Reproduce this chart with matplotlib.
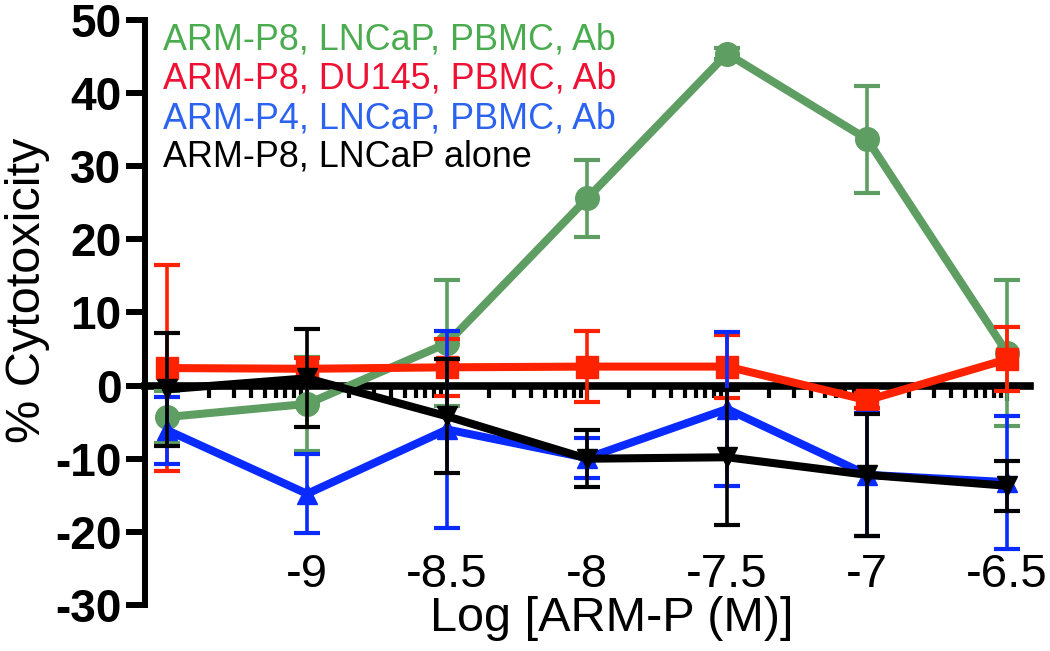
import numpy as np
import matplotlib
matplotlib.use("Agg")
import matplotlib.pyplot as plt

plt.rcParams['font.family'] = ['Liberation Sans', 'DejaVu Sans']

# ---- data ----
log_conc = [-9.5, -9.0, -8.5, -8.0, -7.5, -7.0, -6.5]

green_mean = [-4.3, -2.5, 5.8, 25.6, 45.4, 33.7, 4.5]
green_err = [3.6, 6.4, 8.6, 5.3, 0.8, 7.3, 10.0]

red_mean = [2.4, 2.3, 2.5, 2.6, 2.6, -2.0, 3.6]
red_err = [14.1, 1.5, 3.9, 4.8, 4.3, 1.0, 4.4]

blue_mean = [-6.1, -14.8, -6.0, -9.9, -3.2, -12.2, -13.2]
blue_err = [4.6, 5.4, 13.5, 2.7, 10.5, 8.4, 9.1]

black_mean = [-0.5, 1.0, -4.2, -10.0, -9.8, -12.2, -13.7]
black_err = [7.7, 6.7, 7.8, 3.9, 9.2, 8.3, 3.4]

legend_labels = ["ARM-P8, LNCaP, PBMC, Ab",
                 "ARM-P8, DU145, PBMC, Ab",
                 "ARM-P4, LNCaP, PBMC, Ab",
                 "ARM-P8, LNCaP alone"]
x_tick_values = [-9.0, -8.5, -8.0, -7.5, -7.0, -6.5]
x_tick_labels = ["-9", "-8.5", "-8", "-7.5", "-7", "-6.5"]
y_ticks = [-30, -20, -10, 0, 10, 20, 30, 40, 50]

# ---- styles ----
line_colors = ["#5e9e63", "#ff2200", "#0a2bff", "#000000"]
text_colors = ["#4aac4f", "#ee1133", "#2b63f0", "#000000"]
markers = ["o", "s", "^", "v"]
msizes = [17, 16, 15, 15]

fig = plt.figure(figsize=(10.5, 6.51), dpi=100)
ax = fig.add_axes([0.1381, 0.0707, 0.8429, 0.8986])
ax.set_xlim(-9.579, -6.418)
ax.set_ylim(-30, 50)

series = [(green_mean, green_err), (red_mean, red_err),
          (blue_mean, blue_err), (black_mean, black_err)]
for i, (m, e) in enumerate(series):
    ax.errorbar(log_conc, m, yerr=e, color=line_colors[i], lw=5.8,
                marker=markers[i], ms=msizes[i], mec=line_colors[i],
                elinewidth=2.6, capsize=9.7, capthick=3.0,
                zorder=3 + i, clip_on=False)

# axes styling
ax.spines['top'].set_visible(False)
ax.spines['right'].set_visible(False)
ax.spines['bottom'].set_position(('data', 0))
ax.spines['bottom'].set_linewidth(5.5)
ax.spines['left'].set_linewidth(4.3)
ax.spines['bottom'].set_zorder(2.5)

ax.set_yticks(y_ticks)
ax.set_yticklabels([str(v) for v in y_ticks], fontweight='bold')
ax.tick_params(axis='y', length=14, width=4.3, direction='out', pad=3,
               labelsize=33)

majors = [-9.5] + x_tick_values
minors = [m + 0.5 * np.log10(k) for m in majors[:-1] for k in range(2, 10)]
ax.set_xticks(majors)
ax.set_xticks(minors, minor=True)
ax.tick_params(axis='x', which='major', length=11, width=3.0,
               direction='out', labelbottom=False)
ax.tick_params(axis='x', which='minor', length=8.5, width=3.0,
               direction='out', labelbottom=False)

# tick labels lower down
sec = ax.secondary_xaxis(0.094)
sec.set_xticks(x_tick_values, labels=x_tick_labels)
sec.tick_params(axis='x', which='both', length=0, pad=2, labelsize=34,
                bottom=True, top=False, labelbottom=True, labeltop=False)
for s in sec.spines.values():
    s.set_visible(False)

ax.set_xlabel("Log [ARM-P (M)]", fontsize=35)
ax.xaxis.set_label_coords(0.527, 0.015)
ax.set_ylabel("% Cytotoxicity", fontsize=35)
ax.yaxis.set_label_coords(-0.107, 0.538)

# text legend
ys = [0.966, 0.899, 0.831, 0.765]
for lab, c, yy in zip(legend_labels, text_colors, ys):
    ax.text(0.0203, yy, lab, color=c, fontsize=25.8, transform=ax.transAxes,
            ha='left', va='center')

fig.savefig("out.png", dpi=100)
